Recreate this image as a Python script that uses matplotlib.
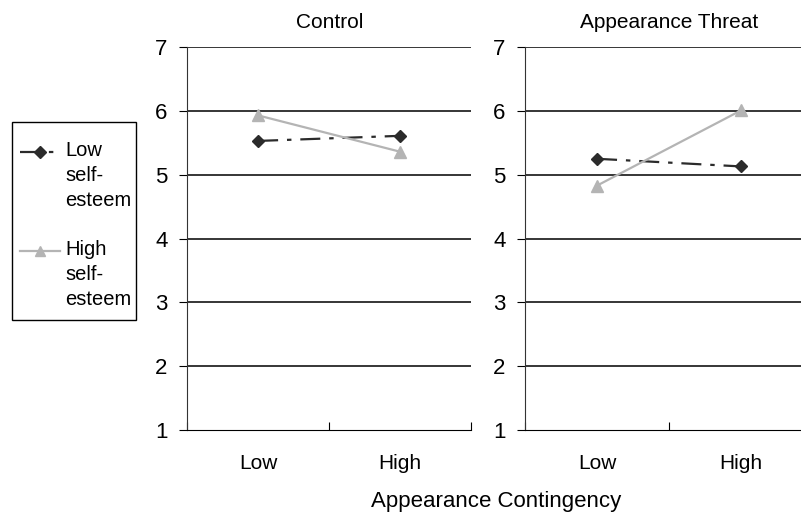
import matplotlib.pyplot as plt
from matplotlib.lines import Line2D
from matplotlib.patches import Rectangle
from matplotlib.legend_handler import HandlerLine2D

plt.rcParams['font.family'] = ['Liberation Sans', 'DejaVu Sans']

categories = ['Low', 'High']
panels = ['Control', 'Appearance Threat']
low_se = {'Control': [5.53, 5.61], 'Appearance Threat': [5.25, 5.13]}
high_se = {'Control': [5.93, 5.36], 'Appearance Threat': [4.83, 6.01]}
yticks = [1, 2, 3, 4, 5, 6, 7]

dark = '#2b2b2b'
light = '#b4b4b4'
dash = (0, (9, 4, 2, 4))


class TopLineHandler(HandlerLine2D):
    # put the legend key next to the first line of a multi-line label
    def create_artists(self, legend, orig_handle, xdescent, ydescent,
                       width, height, fontsize, trans):
        arts = super().create_artists(legend, orig_handle, xdescent, ydescent,
                                      width, height, fontsize, trans)
        for a in arts:
            a.set_ydata([y + 17 for y in a.get_ydata()])
        return arts


fig = plt.figure(figsize=(8.01, 5.18), dpi=100)
axes = [fig.add_axes([0.2335, 0.170, 0.355, 0.739]),
        fig.add_axes([0.6554, 0.170, 0.36, 0.739])]

for ax, name in zip(axes, panels):
    x = range(len(categories))
    ax.plot(x, low_se[name], color=dark, linestyle=dash, linewidth=1.6,
            marker='D', markersize=6.5, zorder=3)
    ax.plot(x, high_se[name], color=light, linestyle='-', linewidth=1.6,
            marker='^', markersize=8, zorder=3)
    ax.set_xlim(-0.5, 1.5)
    ax.set_ylim(1, 7)
    ax.set_yticks(yticks)
    ax.set_xticks([-0.5, 0.5, 1.5], minor=False)
    ax.set_xticklabels([])
    ax.set_xticks([0, 1], minor=True)
    ax.set_xticklabels(categories, minor=True, fontsize=15)
    ax.tick_params(axis='x', which='minor', length=0, pad=17)
    ax.tick_params(axis='x', which='major', direction='in', length=6, color='black')
    ax.tick_params(axis='y', direction='out', length=6, labelsize=16, pad=8)
    for yv in yticks[1:]:
        ax.axhline(yv, color='black', linewidth=1.1, zorder=1)
    for side in ['top', 'right']:
        ax.spines[side].set_visible(False)
    ax.spines['left'].set_color('#333333')
    ax.spines['bottom'].set_color('black')
    ax.set_title(name, fontsize=15, pad=14)

fig.text(0.62, 0.022, 'Appearance Contingency', ha='center', fontsize=16)

# legend frame drawn separately so the padding can match the original box
fig.patches.append(Rectangle((0.015, 0.3822), 0.1548, 0.3822, transform=fig.transFigure,
                             fill=False, edgecolor='black', linewidth=1.0))

handles = [Line2D([], [], color=dark, linestyle=dash, linewidth=1.6, marker='D', markersize=6),
           Line2D([], [], color=light, linestyle='-', linewidth=1.6, marker='^', markersize=7)]
leg = fig.legend(handles, ['Low\nself-\nesteem', 'High\nself-\nesteem'],
                 loc='upper left', bbox_to_anchor=(0.025, 0.728),
                 fontsize=14.5, frameon=False, handlelength=2.0,
                 handletextpad=0.25, labelspacing=1.5, borderpad=0,
                 borderaxespad=0,
                 handler_map={Line2D: TopLineHandler()})
for t in leg.get_texts():
    t.set_linespacing(1.4)

fig.savefig('out.png', dpi=100)
